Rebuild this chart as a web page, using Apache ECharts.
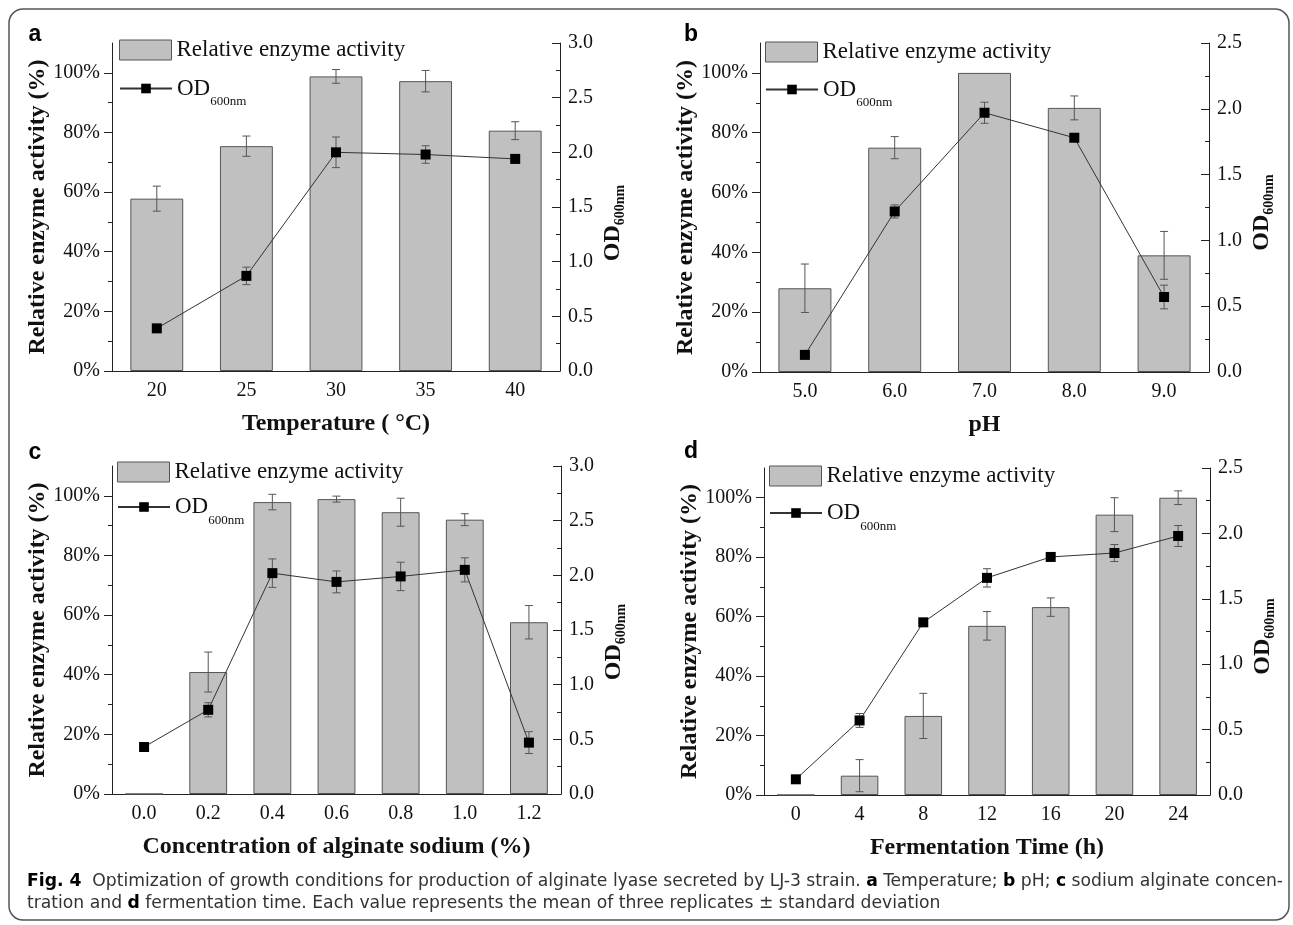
<!DOCTYPE html>
<html>
<head>
<meta charset="utf-8">
<script src="https://cdn.jsdelivr.net/npm/echarts@6.0.0/dist/echarts.min.js"></script>
<style>
html, body { margin: 0; padding: 0; background: #fff; }
#main { width: 1293px; height: 925px; }
</style>
</head>
<body>
<div id="main"></div>
<script>
const serif = '"Liberation Serif", "Times New Roman", serif';
const sans = '"Liberation Sans", Arial, sans-serif';
const capFont = '"Liberation Sans Narrow", "DejaVu Sans Condensed", "Liberation Sans", sans-serif';

// a - temperature
const tempCats = ['20', '25', '30', '35', '40'];
const tempActivity = [57.8, 75.4, 98.8, 97.2, 80.6];
const tempActivityErr = [4.2, 3.4, 2.3, 3.6, 3.0];
const tempOD = [0.39, 0.87, 2.00, 1.98, 1.94];
const tempODErr = [0.02, 0.08, 0.14, 0.08, 0.04];

// b - pH
const phCats = ['5.0', '6.0', '7.0', '8.0', '9.0'];
const phActivity = [28.0, 75.0, 100, 88.3, 39.0];
const phActivityErr = [8.1, 3.7, 0, 4.0, 8.0];
const phOD = [0.13, 1.22, 1.97, 1.78, 0.57];
const phODErr = [0.02, 0.05, 0.08, 0.02, 0.09];

// c - alginate sodium concentration
const concCats = ['0.0', '0.2', '0.4', '0.6', '0.8', '1.0', '1.2'];
const concActivity = [0, 40.9, 97.9, 98.9, 94.5, 92.0, 57.6];
const concActivityErr = [0, 6.7, 2.6, 1.0, 4.7, 2.0, 5.6];
const concOD = [0.43, 0.77, 2.02, 1.94, 1.99, 2.05, 0.47];
const concODErr = [0.02, 0.065, 0.13, 0.10, 0.13, 0.11, 0.10];

// d - fermentation time
const timeCats = ['0', '4', '8', '12', '16', '20', '24'];
const timeActivity = [0, 6.5, 26.6, 56.9, 63.2, 94.3, 100];
const timeActivityErr = [0, 5.4, 7.6, 4.8, 3.1, 5.7, 2.3];
const timeOD = [0.12, 0.57, 1.32, 1.66, 1.82, 1.85, 1.98];
const timeODErr = [0.02, 0.053, 0.03, 0.07, 0.02, 0.065, 0.08];

const pctMajor = [0, 20, 40, 60, 80, 100];
const pctMinor = [10, 30, 50, 70, 90];

const panels = [
    { label: 'a', cats: tempCats, act: tempActivity, actErr: tempActivityErr, od: tempOD, odErr: tempODErr,
      odMax: 3.0, xName: 'Temperature ( °C)',
      grid: { left: 112, top: 43, width: 448, height: 328 },
      barLegend: [119, 38.5], lineLegend: [119, 68.5], odShift: 16, labelPos: [35, 34.5] },
    { label: 'b', cats: phCats, act: phActivity, actErr: phActivityErr, od: phOD, odErr: phODErr,
      odMax: 2.5, xName: 'pH',
      grid: { left: 760, top: 43, width: 449, height: 329 },
      barLegend: [765, 40.5], lineLegend: [765, 69.5], odShift: 5, labelPos: [691, 34.5] },
    { label: 'c', cats: concCats, act: concActivity, actErr: concActivityErr, od: concOD, odErr: concODErr,
      odMax: 3.0, xName: 'Concentration of alginate sodium (%)',
      grid: { left: 112, top: 466, width: 449, height: 328 },
      barLegend: [117, 460.5], lineLegend: [117, 487], odShift: 12, labelPos: [35, 453] },
    { label: 'd', cats: timeCats, act: timeActivity, actErr: timeActivityErr, od: timeOD, odErr: timeODErr,
      odMax: 2.5, xName: 'Fermentation Time (h)',
      grid: { left: 764, top: 468, width: 446, height: 327 },
      barLegend: [769, 464.5], lineLegend: [769, 493], odShift: 5, labelPos: [691, 451.5] }
];

const axisColor = '#222';
const textColor = '#111';

function errorData(values, errs) {
    return values.map((v, i) => [i, v - errs[i], v + errs[i], errs[i]]);
}

function renderErr(params, api) {
    if (!api.value(3)) {
        return null;
    }
    const lo = api.coord([api.value(0), api.value(1)]);
    const hi = api.coord([api.value(0), api.value(2)]);
    const style = { stroke: '#555', lineWidth: 1 };
    return {
        type: 'group',
        children: [
            { type: 'line', shape: { x1: lo[0], y1: lo[1], x2: hi[0], y2: hi[1] }, style },
            { type: 'line', shape: { x1: lo[0] - 4, y1: lo[1], x2: lo[0] + 4, y2: lo[1] }, style },
            { type: 'line', shape: { x1: hi[0] - 4, y1: hi[1], x2: hi[0] + 4, y2: hi[1] }, style }
        ]
    };
}

const grids = [], xAxes = [], yAxes = [], series = [], legends = [], graphics = [];

panels.forEach((p, g) => {
    grids.push(Object.assign({ containLabel: false, outerBoundsMode: 'none' }, p.grid));

    // minor ticks at category boundaries, carries the axis line and name
    xAxes.push({
        type: 'category', gridIndex: g, position: 'bottom', data: p.cats,
        axisLine: { onZero: false, lineStyle: { color: axisColor, width: 1 } },
        axisTick: { length: 4, lineStyle: { color: axisColor } },
        axisLabel: { show: false },
        splitLine: { show: false },
        name: p.xName, nameLocation: 'middle', nameGap: 41,
        nameTextStyle: { fontFamily: serif, fontWeight: 'bold', fontSize: 24, color: textColor }
    });
    // major ticks at category centres with labels
    xAxes.push({
        type: 'category', gridIndex: g, position: 'bottom', data: p.cats,
        axisLine: { show: false, onZero: false },
        axisTick: { alignWithLabel: true, length: 8, lineStyle: { color: axisColor } },
        axisLabel: { interval: 0, margin: 10, fontFamily: serif, fontSize: 20, color: textColor },
        splitLine: { show: false }
    });

    yAxes.push({
        type: 'value', gridIndex: g, position: 'left', min: 0, max: 110,
        axisLine: { show: true, lineStyle: { color: axisColor, width: 1 } },
        axisTick: { show: true, length: 8, customValues: pctMajor, lineStyle: { color: axisColor } },
        axisLabel: { customValues: pctMajor, formatter: '{value}%', margin: 12,
            fontFamily: serif, fontSize: 20, color: textColor },
        splitLine: { show: false },
        name: 'Relative enzyme activity (%)', nameLocation: 'middle', nameRotate: 90, nameGap: 60,
        nameTextStyle: { fontFamily: serif, fontWeight: 'bold', fontSize: 24, color: textColor }
    });
    yAxes.push({
        type: 'value', gridIndex: g, position: 'left', min: 0, max: 110,
        axisLine: { show: false },
        axisTick: { show: true, length: 4, customValues: pctMinor, lineStyle: { color: axisColor } },
        axisLabel: { show: false },
        splitLine: { show: false }
    });
    yAxes.push({
        type: 'value', gridIndex: g, position: 'right', min: 0, max: p.odMax, interval: 0.5,
        axisLine: { show: true, lineStyle: { color: axisColor, width: 1 } },
        axisTick: { show: true, inside: true, length: 8, lineStyle: { color: axisColor } },
        minorTick: { show: true, splitNumber: 2, length: 4, lineStyle: { color: axisColor } },
        axisLabel: { formatter: v => v.toFixed(1), margin: 8, fontFamily: serif, fontSize: 20, color: textColor },
        splitLine: { show: false },
        name: '{od|OD}{sub|600nm}', nameLocation: 'middle', nameRotate: 90, nameGap: 41,
        nameTextStyle: {
            fontFamily: serif, fontWeight: 'bold', fontSize: 24, color: textColor,
            padding: [0, p.odShift * 2, 0, 0],
            rich: {
                od: { fontFamily: serif, fontWeight: 'bold', fontSize: 24, lineHeight: 24, verticalAlign: 'middle', color: textColor },
                sub: { fontFamily: serif, fontWeight: 'bold', fontSize: 14, lineHeight: 14, padding: [15, 0, 0, 0], verticalAlign: 'middle', color: textColor }
            }
        }
    });

    const xi = 2 * g + 1;
    series.push({
        name: 'Relative enzyme activity', type: 'bar', xAxisIndex: xi, yAxisIndex: 3 * g,
        data: p.act, barWidth: '59%', z: 2,
        itemStyle: { color: '#c0c0c0', borderColor: '#555', borderWidth: 1, borderRadius: 0 }
    });
    series.push({
        type: 'custom', xAxisIndex: xi, yAxisIndex: 3 * g, z: 3,
        data: errorData(p.act, p.actErr), encode: { x: 0, y: [1, 2] },
        renderItem: renderErr
    });
    series.push({
        type: 'custom', xAxisIndex: xi, yAxisIndex: 3 * g + 2, z: 4,
        data: errorData(p.od, p.odErr), encode: { x: 0, y: [1, 2] },
        renderItem: renderErr
    });
    series.push({
        name: 'OD600nm', type: 'line', xAxisIndex: xi, yAxisIndex: 3 * g + 2,
        data: p.od, symbol: 'rect', symbolSize: 10, z: 5,
        itemStyle: { color: '#000' },
        lineStyle: { color: '#333', width: 1 }
    });

    legends.push({
        data: ['Relative enzyme activity'], icon: 'rect', left: p.barLegend[0], top: p.barLegend[1],
        padding: 0, itemWidth: 52, itemHeight: 20, selectedMode: false,
        itemStyle: { borderColor: '#555', borderWidth: 1 },
        textStyle: { fontFamily: serif, fontSize: 23, color: textColor }
    });
    legends.push({
        data: ['OD600nm'], left: p.lineLegend[0], top: p.lineLegend[1],
        padding: 0, itemWidth: 52, itemHeight: 12, selectedMode: false,
        formatter: () => '{od|OD}{sub|600nm}',
        textStyle: {
            fontFamily: serif, fontSize: 23, color: textColor,
            rich: {
                od: { fontFamily: serif, fontSize: 23, lineHeight: 23, verticalAlign: 'middle', color: textColor },
                sub: { fontFamily: serif, fontSize: 13, lineHeight: 13, padding: [27, 0, 0, 0], verticalAlign: 'middle', color: textColor }
            }
        }
    });

    graphics.push({
        type: 'text', x: p.labelPos[0], y: p.labelPos[1],
        style: { text: p.label, font: 'bold 23px ' + sans, fill: '#000', align: 'center', verticalAlign: 'middle' }
    });
});

// caption
const capLine1 = [['Fig. 4', true], ['  Optimization of growth conditions for production of alginate lyase secreted by LJ-3 strain. ', false],
    ['a', true], [' Temperature; ', false], ['b', true], [' pH; ', false], ['c', true], [' sodium alginate concen-', false]];
const capLine2 = [['tration and ', false], ['d', true],
    [' fermentation time. Each value represents the mean of three replicates \u00b1 standard deviation', false]];
const capSize = 18;

function measure(parts) {
    const ctx = document.createElement('canvas').getContext('2d');
    let w = 0;
    parts.forEach(([t, bold]) => {
        ctx.font = (bold ? 'bold ' : '') + capSize + 'px ' + capFont;
        w += ctx.measureText(t).width;
    });
    return w;
}
function richText(parts) {
    return parts.map(([t, bold]) => '{' + (bold ? 'b' : 'r') + '|' + t + '}').join('');
}
const capScale = 1256 / measure(capLine1);
const capRich = {
    b: { fontFamily: capFont, fontWeight: 'bold', fontSize: capSize, fill: '#000' },
    r: { fontFamily: capFont, fontSize: capSize, fill: '#333' }
};
[[capLine1, 881], [capLine2, 903]].forEach(([parts, y]) => {
    graphics.push({
        type: 'text', x: 27, y: y, scaleX: capScale,
        style: { text: richText(parts), rich: capRich, verticalAlign: 'middle', align: 'left',
            font: capSize + 'px ' + capFont, fill: '#333' }
    });
});

graphics.push({
    type: 'rect', z: -1, silent: true,
    shape: { x: 9, y: 9, width: 1280, height: 911, r: 14 },
    style: { fill: 'none', stroke: '#555', lineWidth: 1.5 }
});

const chart = echarts.init(document.getElementById('main'), null, { renderer: 'canvas' });
chart.setOption({
    animation: false,
    backgroundColor: '#fff',
    grid: grids,
    xAxis: xAxes,
    yAxis: yAxes,
    legend: legends,
    series: series,
    graphic: graphics
});
</script>
</body>
</html>
